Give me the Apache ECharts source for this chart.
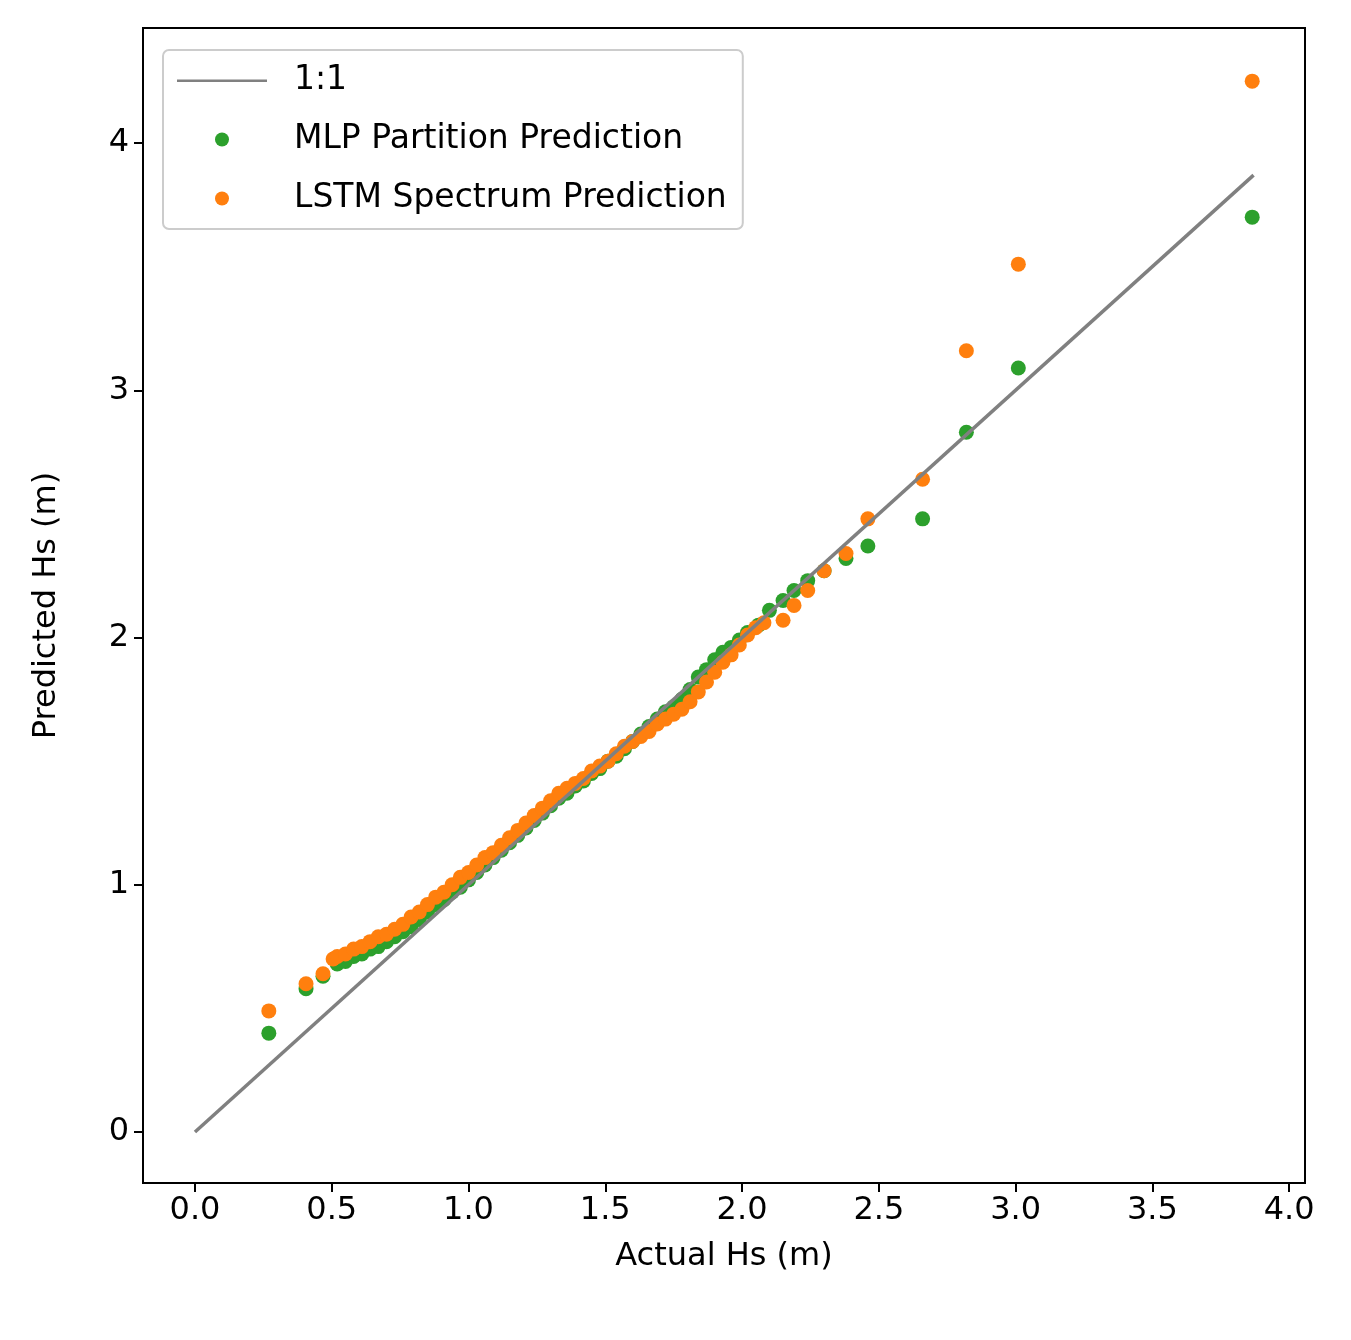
<!DOCTYPE html>
<html><head><meta charset="utf-8">
<script src="https://cdn.jsdelivr.net/npm/echarts@6/dist/echarts.min.js"></script>
<style>body{margin:0}#c{width:1351px;height:1340px}</style></head>
<body><div id="c"></div>
<script>
// 1:1 reference line
var oneToOne = [[0, 0], [3.87, 3.87]];
// MLP Partition Prediction (actual, predicted)
var mlpX = [0.27,0.406,0.468,0.52,0.55,0.58,0.61,0.64,0.67,0.70,0.73,0.76,0.79,0.82,0.85,0.88,0.91,0.94,0.97,1.00,1.03,1.06,1.09,1.12,1.15,1.18,1.21,1.24,1.27,1.30,1.33,1.36,1.39,1.42,1.45,1.48,1.51,1.54,1.57,1.60,1.63,1.66,1.69,1.72,1.75,1.78,1.81,1.84,1.87,1.90,1.93,1.96,1.99,2.02,2.06,2.10,2.15,2.19,2.24,2.30,2.38,2.46,2.66,2.82,3.01,3.865];
var mlpY = [0.40,0.58,0.63,0.68,0.69,0.71,0.72,0.74,0.75,0.77,0.79,0.81,0.83,0.86,0.89,0.92,0.94,0.97,0.99,1.02,1.05,1.08,1.11,1.14,1.17,1.20,1.23,1.26,1.29,1.32,1.35,1.37,1.40,1.42,1.45,1.47,1.50,1.52,1.55,1.58,1.61,1.64,1.67,1.70,1.72,1.75,1.79,1.84,1.87,1.91,1.94,1.96,1.99,2.02,2.05,2.11,2.15,2.19,2.23,2.27,2.32,2.37,2.48,2.83,3.09,3.70];
// LSTM Spectrum Prediction (actual, predicted)
var lstmX = [0.27,0.406,0.468,0.505,0.52,0.55,0.58,0.61,0.64,0.67,0.70,0.73,0.76,0.79,0.82,0.85,0.88,0.91,0.94,0.97,1.00,1.03,1.06,1.09,1.12,1.15,1.18,1.21,1.24,1.27,1.30,1.33,1.36,1.39,1.42,1.45,1.48,1.51,1.54,1.57,1.60,1.63,1.66,1.69,1.72,1.75,1.78,1.81,1.84,1.87,1.90,1.93,1.96,1.99,2.02,2.05,2.08,2.15,2.19,2.24,2.30,2.38,2.46,2.66,2.82,3.01,3.865];
var lstmY = [0.49,0.60,0.64,0.70,0.71,0.72,0.74,0.75,0.77,0.79,0.80,0.82,0.84,0.87,0.89,0.92,0.95,0.97,1.00,1.03,1.05,1.08,1.11,1.13,1.16,1.19,1.22,1.25,1.28,1.31,1.34,1.37,1.39,1.41,1.43,1.46,1.48,1.50,1.53,1.56,1.58,1.60,1.62,1.65,1.67,1.69,1.71,1.74,1.78,1.82,1.86,1.90,1.93,1.97,2.01,2.04,2.06,2.07,2.13,2.19,2.27,2.34,2.48,2.64,3.16,3.51,4.25];
var xTicks = [0, 0.5, 1, 1.5, 2, 2.5, 3, 3.5, 4];
var yTicks = [0, 1, 2, 3, 4];

function pairs(xs, ys) { return xs.map(function (x, i) { return [x, ys[i]]; }); }

var chart = echarts.init(document.getElementById('c'));
var font = 'DejaVu Sans';
// thin line icon padded to full item height
var lineIcon = 'path://M0,0 L0.01,0 L0.01,0.01 Z M0,6 L90,6 L90,8.5 L0,8.5 Z M0,14 L0.01,14 L0.01,13.99 Z';
chart.setOption({
  animation: false,
  textStyle: { fontFamily: font },
  grid: { left: 143, right: 46, top: 28, bottom: 157, show: true, borderColor: '#000', borderWidth: 2 },
  legend: {
    orient: 'vertical', left: 163, top: 50, padding: [14, 16, 14, 14],
    itemGap: 26, itemWidth: 90, itemHeight: 14,
    borderColor: '#ccc', borderWidth: 2, borderRadius: 6,
    textStyle: { fontSize: 33, color: '#000', fontFamily: font, padding: [0, 0, 0, 22] },
    data: [
      { name: '1:1', icon: lineIcon, itemStyle: { color: '#808080' } },
      { name: 'MLP Partition Prediction', icon: 'circle' },
      { name: 'LSTM Spectrum Prediction', icon: 'circle' }
    ]
  },
  xAxis: {
    type: 'value', min: -0.19, max: 4.058,
    name: 'Actual Hs (m)', nameLocation: 'middle', nameGap: 58,
    nameTextStyle: { fontSize: 32, color: '#000' },
    splitLine: { show: false },
    axisLine: { show: true, onZero: false, lineStyle: { color: '#000', width: 2 } },
    axisTick: { show: true, length: 9, lineStyle: { color: '#000', width: 2 }, customValues: xTicks },
    axisLabel: { fontSize: 32, color: '#000', margin: 12, customValues: xTicks,
      formatter: function (v) { return v.toFixed(1); } }
  },
  yAxis: {
    type: 'value', min: -0.206, max: 4.465,
    name: 'Predicted Hs (m)', nameLocation: 'middle', nameGap: 80, nameRotate: 90,
    nameTextStyle: { fontSize: 32, color: '#000' },
    splitLine: { show: false },
    axisLine: { show: true, onZero: false, lineStyle: { color: '#000', width: 2 } },
    axisTick: { show: true, length: 9, lineStyle: { color: '#000', width: 2 }, customValues: yTicks },
    axisLabel: { fontSize: 32, color: '#000', margin: 14, customValues: yTicks,
      formatter: function (v) { return String(Math.round(v)); } }
  },
  series: [
    { name: '1:1', type: 'line', data: oneToOne, symbol: 'none',
      lineStyle: { color: '#808080', width: 3.5 }, itemStyle: { color: '#808080' } },
    { name: 'MLP Partition Prediction', type: 'scatter', data: pairs(mlpX, mlpY),
      symbolSize: 15, itemStyle: { color: '#2ca02c', opacity: 1 } },
    { name: 'LSTM Spectrum Prediction', type: 'scatter', data: pairs(lstmX, lstmY),
      symbolSize: 15, itemStyle: { color: '#ff7f0e', opacity: 1 } }
  ]
});
</script></body></html>
